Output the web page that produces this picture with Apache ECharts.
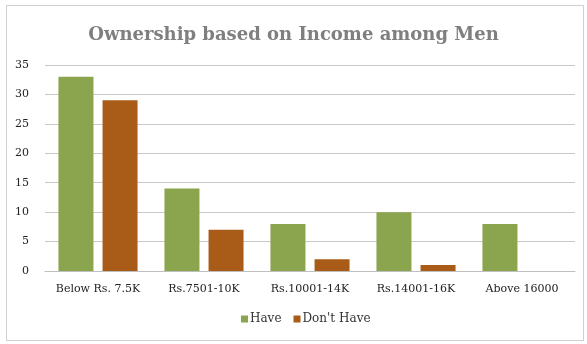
<!DOCTYPE html>
<html>
<head>
<meta charset="utf-8">
<script src="https://cdn.jsdelivr.net/npm/echarts@6/dist/echarts.min.js"></script>
<style>
  html, body { margin: 0; padding: 0; background: #fff; }
  #frame { position: absolute; left: 6px; top: 5px; width: 578px; height: 336px; border: 1px solid #d0d0d0; box-sizing: border-box; }
  #chart { position: absolute; left: 0; top: 0; width: 587px; height: 344px; }
</style>
</head>
<body>
<div id="frame"></div>
<div id="chart"></div>
<script>
// Income brackets and ownership counts
const categories = ['Below Rs. 7.5K', 'Rs.7501-10K', 'Rs.10001-14K', 'Rs.14001-16K', 'Above 16000'];
const haveValues = [33, 14, 8, 10, 8];
const dontHaveValues = [29, 7, 2, 1, 0];
const yTicks = { min: 0, max: 35, interval: 5 };

const fontFamily = '"DejaVu Serif", "Liberation Serif", serif';

const chart = echarts.init(document.getElementById('chart'));
chart.setOption({
  animation: false,
  title: {
    text: 'Ownership based on Income among Men',
    left: 'center',
    top: 21,
    textStyle: { fontFamily, fontSize: 18, fontWeight: 'bold', color: '#7f7f7f' }
  },
  legend: {
    bottom: 14,
    left: 236,
    itemWidth: 7,
    itemHeight: 7,
    itemGap: 12,
    icon: 'rect',
    textStyle: { fontFamily, fontSize: 12, color: '#333', padding: [0, 0, 0, -3] },
    data: ['Have', "Don't Have"]
  },
  grid: { left: 45, right: 12, top: 65, bottom: 73 },
  xAxis: {
    type: 'category',
    data: categories,
    axisLine: { lineStyle: { color: '#bfbfbf' } },
    axisTick: { show: false },
    axisLabel: { fontFamily, fontSize: 11, color: '#222', margin: 13, interval: 0 }
  },
  yAxis: {
    type: 'value',
    min: yTicks.min,
    max: yTicks.max,
    interval: yTicks.interval,
    axisLine: { show: false },
    axisTick: { show: false },
    splitLine: { lineStyle: { color: '#c8c8c8' } },
    axisLabel: { fontFamily, fontSize: 11, color: '#222', margin: 16 }
  },
  series: [
    {
      name: 'Have',
      type: 'bar',
      data: haveValues,
      barWidth: 35,
      barGap: '26%',
      itemStyle: { color: '#8ba54e' }
    },
    {
      name: "Don't Have",
      type: 'bar',
      data: dontHaveValues,
      barWidth: 35,
      itemStyle: { color: '#a95c17' }
    }
  ]
});
</script>
</body>
</html>
